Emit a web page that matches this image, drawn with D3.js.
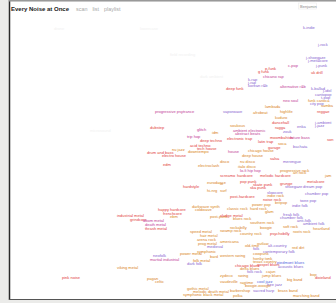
<!DOCTYPE html>
<html>
<head>
<meta charset="utf-8">
<script src="https://cdnjs.cloudflare.com/ajax/libs/d3/7.8.5/d3.min.js"></script>
<style>
html, body { margin: 0; padding: 0; background: #ebebe9; }
#map_div { width: 336px; height: 303px; }
</style>
</head>
<body>
<div id="map_div"></div>
<script>
// genre labels (x: organic -> electric, y: dense -> spiky)
var genres = ["k-indie", "j-rock", "j-shoegaze", "j-metalcore", "c-pop", "j-punk", "p-funk", "g funk", "uk drill", "chicano rap",
    "k-rap", "j-rap", "korean r&b", "deep funk", "alternative r&b", "k-ballad", "j-idol", "cantopop", "t-pop", "neo soul",
    "funk carioca", "lambada", "samba", "progressive psytrance", "dubstep", "glitch", "idm", "trip hop", "deep techno", "acid techno",
    "tech house", "nu jazz", "downtempo", "drum and bass", "electro house", "city pop", "vaporwave", "afrobeat", "highlife", "reggae",
    "kuduro", "dancehall", "j-ambient", "j-jazz", "soukous", "ragga", "enka", "ambient electronic", "abstract beats", "zouk",
    "moombahton", "future bass", "electronic trap", "latin trap", "bachata", "soca", "son", "house", "chicago house", "garage",
    "deep house", "disco", "nu disco", "salsa", "merengue", "italo disco", "edm", "electroclash", "hardstyle", "eurodance",
    "hi-nrg", "happy hardcore", "frenchcore", "ebm", "darkwave synth", "coldwave", "industrial metal", "grindcore", "doom metal", "death metal",
    "thrash metal", "post-punk", "lo-fi hip hop", "progressive rock", "screamo", "hardcore", "melodic hardcore", "art rock", "metalcore", "jam",
    "pop punk", "skate punk", "grunge", "oi", "ska punk", "shoegaze", "dream pop", "slowcore", "indie rock", "chamber pop",
    "surf", "post-hardcore", "noise rock", "britpop", "twee pop", "indie folk", "power pop", "classic rock", "hard rock", "glam",
    "freak folk", "chamber folk", "anti-folk", "blues rock", "sludge metal", "southern rock", "rockabilly", "boogie", "soft rock", "ambient folk",
    "swamp rock", "country rock", "psychobilly", "roots rock", "heartland", "speed metal", "hair metal", "arena rock", "prog metal",
    "power metal", "neofolk", "martial industrial", "folk metal", "dark folk", "viking metal", "pagan", "celtic", "symphonic", "medieval",
    "bard", "gothic metal", "melodic death metal", "symphonic black metal", "americana", "old-time", "outlaw", "alt-country", "red dirt", "folk",
    "contemporary folk", "cowpunk", "honky tonk", "western swing", "texas country", "gospel blues", "piedmont blues", "chicago blues", "acoustic blues", "delta blues",
    "folk rock", "cajun", "zydeco", "swing", "jump blues", "big band", "bop", "dixieland", "cool jazz", "free jazz",
    "ragtime", "boogie-woogie", "vaudeville", "barbershop", "sacred harp", "brass band", "polka", "marching band", "pink noise"];

var genre_x = [146.5, 154, 148, 149, 139, 153, 127.5, 124, 150.5, 126.5,
    119, 119, 119, 108, 135, 150.5, 156.5, 152.5, 155.5, 136.5,
    149, 127.5, 155.5, 72.5, 70, 93.5, 101, 88.5, 95, 90,
    93.5, 81, 89, 68.5, 76, 150, 106.5, 121.5, 135, 153.5,
    132.5, 131, 152.5, 152.5, 110, 132.5, 143.5, 111.5, 112.5, 136.5,
    130, 140, 108.5, 124, 141.5, 134, 158.5, 109, 119, 129,
    116, 105, 115, 130, 136.5, 114, 76.5, 94, 86.5, 98.5,
    98.5, 74, 76.5, 80, 91, 92.5, 53.5, 60, 66.5, 67.5,
    67.5, 100, 115, 135, 105, 113.5, 125, 141.5, 148.5, 157.5,
    115, 121.5, 135, 105, 120, 137.5, 146.5, 128.5, 128.5, 147.5,
    105, 110, 126.5, 132.5, 145, 141, 121, 108.5, 120, 127.5,
    136.5, 135, 143.5, 111.5, 105, 120, 110, 125, 136.5, 146.5,
    105, 115, 130, 141.5, 151.5, 90, 95, 93.5, 94,
    85, 71.5, 70, 91.5, 88.5, 53.5, 68.5, 72.5, 93.5, 98.5,
    100, 88.5, 91.5, 86.5, 105, 117.5, 123.5, 129, 141, 121.5,
    126.5, 121.5, 121.5, 105, 121.5, 123.5, 133.5, 112.5, 134, 115,
    118.5, 128, 105, 114, 126, 138.5, 150, 152.5, 123.5, 128.5,
    115, 117.5, 105, 110, 121.5, 134, 111.5, 141.5, 26];

var genre_y = [8.5, 17, 23.5, 25, 27.5, 27.5, 29, 30.5, 31, 33,
    34.5, 36, 37.5, 39, 38, 39, 40, 42, 43.5, 45,
    45, 48, 47.5, 50.5, 58.5, 59.5, 61, 63, 65, 67.5,
    69, 69.5, 70.5, 71, 72.5, 46.5, 50.5, 51, 50.5, 50.5,
    53.5, 56, 56, 57.5, 57.5, 58.5, 58, 60, 61.5, 60.5,
    63.5, 63.5, 64, 65.5, 68, 66.5, 64.5, 70.5, 70, 68.5,
    72.5, 75.5, 75.5, 74, 75.5, 78, 77, 77.5, 88, 86,
    90, 99.5, 101.5, 103, 98, 99.5, 102.5, 104.5, 105, 107,
    109, 103, 80, 80, 82.5, 82.5, 82.5, 81, 85.5, 82.5,
    85.5, 87, 86.5, 86.5, 88.5, 88, 88, 91, 92.5, 91.5,
    90, 93, 94.5, 96, 95, 97.5, 97, 99, 99, 100.5,
    102, 103.5, 105, 104, 102.5, 106, 108.5, 108.5, 108, 106.5,
    110, 111.5, 111.5, 110.5, 109, 110.5, 112.5, 114.5, 116.5,
    121.5, 122.5, 124.5, 125, 126.5, 128.5, 134, 135.5, 120.5, 118,
    123, 139, 140.5, 142, 115.5, 117.5, 116.5, 117.5, 118.5, 119,
    120.5, 121.5, 123.75, 122.5, 125.5, 127, 126, 127.5, 128, 129,
    130.5, 130.5, 132.5, 132.5, 132.5, 134.5, 132, 133.5, 135.5, 137,
    136, 137.5, 135.5, 140, 140, 140, 142.5, 142.5, 133.5];

// colour family of each label: r red, o orange, m magenta, p purple, b blue
var genre_tone = ["p", "p", "p", "p", "m", "p", "r", "r", "r", "m",
    "p", "p", "p", "r", "m", "p", "p", "p", "p", "m",
    "o", "o", "o", "m", "r", "m", "o", "m", "r", "r",
    "r", "o", "o", "r", "r", "p", "p", "o", "o", "r",
    "o", "r", "p", "p", "o", "r", "p", "m", "m", "p",
    "r", "m", "r", "r", "p", "o", "r", "m", "o", "r",
    "o", "o", "o", "r", "p", "o", "r", "o", "r", "o",
    "o", "r", "r", "o", "o", "o", "r", "r", "m", "m",
    "r", "o", "m", "o", "r", "r", "r", "o", "r", "o",
    "r", "r", "r", "o", "r", "p", "p", "p", "o", "p",
    "o", "r", "r", "o", "p", "p", "o", "o", "o", "o",
    "p", "p", "p", "o", "r", "o", "o", "o", "o", "p",
    "o", "o", "r", "o", "o", "o", "o", "o", "o",
    "o", "p", "m", "o", "p", "o", "o", "o", "o", "p",
    "o", "o", "o", "o", "o", "o", "o", "p", "o", "p",
    "p", "o", "o", "o", "o", "r", "b", "r", "p", "o",
    "p", "o", "o", "o", "o", "o", "o", "r", "b", "p",
    "o", "o", "o", "o", "p", "o", "o", "o", "r"];

// barely visible labels in the empty part of the map
var faint_genres = ["drone", "lowercase", "field recording", "dark ambient", "microsound"];
var faint_x = [22, 65, 80, 95, 40];
var faint_y = [9, 9, 22, 33, 60];

var menu_links = ["scan", "list", "playlist"];

var noise_map = {
    div: 0,
    width: 0,
    height: 0,
    view: 0,
    x: 0,
    y: 0,
    font: "Liberation Sans, Arial, sans-serif",
    initialize: function() {
        var self = this;
        self.div = "#map_div";
        self.width = 336;
        self.height = 303;
        self.view = d3.select(self.div).append("svg")
            .attr("id", "map_svg")
            .attr("width", self.width)
            .attr("height", self.height);
        self.x = d3.scaleLinear().domain([0, 162]).range([10, 334]);
        self.y = d3.scaleLinear().domain([0, 144]).range([12, 300]);
    },
    draw_frame: function() {
        var self = this;
        self.view.append("rect")
            .attr("width", self.width).attr("height", self.height)
            .attr("fill", "#ebebe9");
        self.view.append("rect")
            .attr("x", 10).attr("y", 1.5)
            .attr("width", self.width - 10).attr("height", 297.5)
            .attr("fill", "#ffffff");
        self.view.append("line")
            .attr("x1", 9.5).attr("x2", 9.5).attr("y1", 0).attr("y2", 300)
            .attr("stroke", "#2a2a2a").attr("stroke-width", 1.5);
        self.view.append("line")
            .attr("x1", 9).attr("x2", self.width).attr("y1", 299.5).attr("y2", 299.5)
            .attr("stroke", "#555").attr("stroke-width", 1.2);
        self.view.append("line")
            .attr("x1", 9).attr("x2", self.width).attr("y1", 0.7).attr("y2", 0.7)
            .attr("stroke", "#999").attr("stroke-width", 1.4);
    },
    draw_header: function() {
        var self = this;
        var title = self.view.append("text")
            .attr("x", 11).attr("y", 10.5)
            .attr("font-family", self.font)
            .attr("font-size", 6)
            .attr("font-weight", "bold")
            .attr("fill", "#1a1a1a")
            .text("Every Noise at Once");
        var pos = 11 + title.node().getComputedTextLength() + 7;
        for (var i = 0; i < menu_links.length; i++) {
            var t = self.view.append("text")
                .attr("x", pos).attr("y", 10.5)
                .attr("font-family", self.font)
                .attr("font-size", 5.4)
                .attr("fill", "#a8a8a8")
                .text(menu_links[i]);
            pos += t.node().getComputedTextLength() + 5;
        }
        self.view.append("rect")
            .attr("x", 298.5).attr("y", 3).attr("width", 18).attr("height", 6)
            .attr("fill", "none").attr("stroke", "#ececec").attr("stroke-width", 0.6);
        self.view.append("text")
            .attr("x", 300).attr("y", 7.6)
            .attr("font-family", self.font)
            .attr("font-size", 4)
            .attr("fill", "#8a8a8a")
            .text("Benjamin");
    },
    main_draw: function() {
        var self = this;
        var tone_color = d3.scaleOrdinal()
            .domain(["r", "o", "m", "p", "b"])
            .range(["#e2403a", "#d98622", "#c23c96", "#8764cf", "#5466de"]);

        self.view.append("g")
            .selectAll("text")
            .data(faint_genres)
            .enter()
            .append("text")
            .attr("x", function(d, i) { return self.x(faint_x[i]); })
            .attr("y", function(d, i) { return self.y(faint_y[i]); })
            .attr("font-family", self.font)
            .attr("font-size", 4)
            .attr("fill", "#f1f1f1")
            .text(function(d) { return d; });

        self.view.append("g")
            .selectAll("text")
            .data(genres)
            .enter()
            .append("text")
            .attr("x", function(d, i) { return self.x(genre_x[i]); })
            .attr("y", function(d, i) { return self.y(genre_y[i]); })
            .attr("font-family", self.font)
            .attr("font-size", 4)
            .attr("fill", function(d, i) { return tone_color(genre_tone[i]); })
            .text(function(d) { return d; });
    }
}

noise_map.initialize();
noise_map.draw_frame();
noise_map.draw_header();
noise_map.main_draw();
</script>
</body>
</html>
